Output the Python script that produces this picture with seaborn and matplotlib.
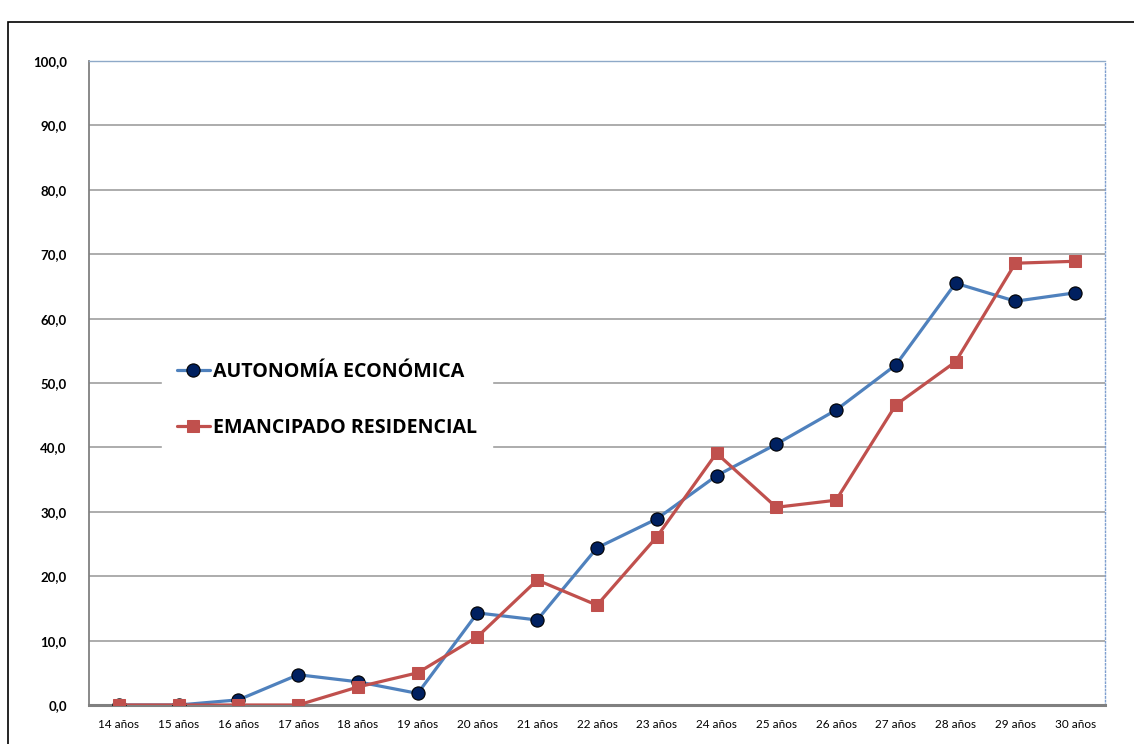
import matplotlib
matplotlib.use("Agg")
import matplotlib.pyplot as plt
import seaborn as sns
import pandas as pd
from matplotlib.patches import Rectangle
from matplotlib.ticker import FuncFormatter

categories = ["14 años", "15 años", "16 años", "17 años", "18 años", "19 años", "20 años",
              "21 años", "22 años", "23 años", "24 años", "25 años", "26 años", "27 años",
              "28 años", "29 años", "30 años"]
autonomia = [0.0, 0.0, 0.8, 4.7, 3.6, 1.8, 14.3, 13.2, 24.4, 28.9, 35.6, 40.5, 45.8, 52.8, 65.5, 62.7, 64.0]
emancipado = [0.0, 0.0, 0.0, 0.0, 2.8, 5.0, 10.6, 19.4, 15.5, 26.1, 39.1, 30.7, 31.8, 46.6, 53.3, 68.6, 68.9]
series_names = ["AUTONOMÍA ECONÓMICA", "EMANCIPADO RESIDENCIAL"]

sns.set_theme(style="white")
plt.rcParams['font.family'] = ['Lato', 'DejaVu Sans']
plt.rcParams['text.color'] = 'black'

fig = plt.figure(figsize=(11.34, 7.44), dpi=100)
ax = fig.add_axes([89/1134, 1-705/744, (1105-89)/1134, (705-61)/744])

fig.patches.append(Rectangle((8/1134, -0.1), 1.2, 1-22/744+0.1, transform=fig.transFigure,
                             fill=False, edgecolor="black", linewidth=1.2, zorder=0))

df = pd.DataFrame({"edad": categories, "a": autonomia, "e": emancipado})

sns.lineplot(data=df, x="edad", y="a", ax=ax, color="#4F81BD", linewidth=2.3,
             marker="o", markersize=9.5, markerfacecolor="#002060", markeredgecolor="black",
             markeredgewidth=0.8, label=series_names[0], sort=False, zorder=3)
sns.lineplot(data=df, x="edad", y="e", ax=ax, color="#C0504D", linewidth=2.3,
             marker="s", markersize=8.5, markerfacecolor="#C0504D", markeredgecolor="#C0504D",
             label=series_names[1], sort=False, zorder=4)

ax.set_xlim(-0.5, len(categories) - 0.5)
ax.set_ylim(0, 100)
ax.set_yticks(range(0, 101, 10))
ax.yaxis.set_major_formatter(FuncFormatter(lambda v, p: f"{v:.1f}".replace(".", ",")))
ax.grid(axis="y", color="#A6A6A6", linewidth=1.3)
ax.set_axisbelow(True)
ax.set_xlabel("")
ax.set_ylabel("")

for lbl in ax.get_yticklabels():
    lbl.set_fontweight("bold")
ax.tick_params(axis="y", labelsize=9.5, pad=16, length=0, labelcolor="black")
ax.tick_params(axis="x", labelsize=8.5, pad=10, length=0, labelcolor="black")

ax.spines["left"].set_color("#808080")
ax.spines["left"].set_linewidth(1.3)
ax.spines["bottom"].set_color("#808080")
ax.spines["bottom"].set_linewidth(2.2)
ax.spines["top"].set_color("#8EA9C8")
ax.spines["top"].set_linewidth(1.0)
ax.spines["right"].set_color("#7F9FCF")
ax.spines["right"].set_linestyle(":")
ax.spines["right"].set_linewidth(1.0)

leg = ax.legend(loc="upper left", bbox_to_anchor=(162/1134, 1-347/744), bbox_transform=fig.transFigure,
                frameon=True, fancybox=False, facecolor="white", edgecolor="white", framealpha=1,
                prop={"family": ["Open Sans", "DejaVu Sans"], "weight": "bold", "size": 14.1},
                handlelength=1.7, handletextpad=0.15,
                labelspacing=1.83, borderpad=0.75, borderaxespad=0, labelcolor="black")
leg.set_zorder(5)

fig.savefig("out.png", dpi=100)
